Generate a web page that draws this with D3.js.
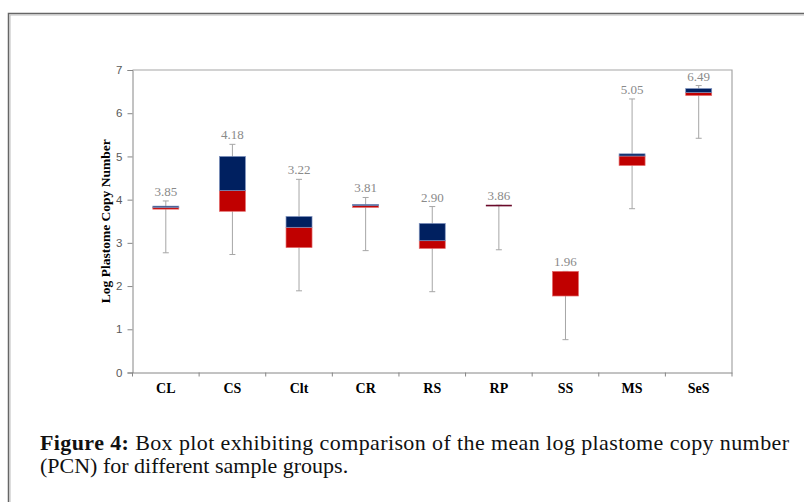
<!DOCTYPE html>
<html>
<head>
<meta charset="utf-8">
<script src="https://cdn.jsdelivr.net/npm/d3@7"></script>
<style>
  html, body { margin: 0; padding: 0; background: #fff; }
  svg { display: block; }
</style>
</head>
<body>
<svg id="chart" width="804" height="502"></svg>
<script>
// ---- data ----
const categories  = ["CL", "CS", "Clt", "CR", "RS", "RP", "SS", "MS", "SeS"];
const whiskerLow  = [2.77, 2.73, 1.89, 2.82, 1.87, 2.84, 0.76, 3.79, 5.42];
const q1          = [3.78, 3.73, 2.89, 3.82, 2.87, 3.85, 1.77, 4.79, 6.41];
const median      = [3.82, 4.21, 3.36, 3.86, 3.05, 3.86, 2.34, 5.01, 6.48];
const q3          = [3.85, 5.00, 3.61, 3.89, 3.45, 3.87, 2.34, 5.06, 6.57];
const whiskerHigh = [3.97, 5.28, 4.47, 4.05, 3.84, 3.87, 2.34, 6.33, 6.64];
const meanLabels  = ["3.85", "4.18", "3.22", "3.81", "2.90", "3.86", "1.96", "5.05", "6.49"];
const yTicks      = [0, 1, 2, 3, 4, 5, 6, 7];
const yTitle      = "Log Plastome Copy Number";
const captionBold = "Figure 4:";
const captionLine1 = " Box plot exhibiting comparison of the mean log plastome copy number";
const captionLine2 = "(PCN) for different sample groups.";

const svg = d3.select("#chart");

// outer frame
svg.append("path").attr("d", "M8.5,502 V13.5 H804")
  .attr("fill", "none").attr("stroke", "#666").attr("stroke-width", 1.5);
svg.append("path").attr("d", "M10,502 V15 H804")
  .attr("fill", "none").attr("stroke", "#bbb").attr("stroke-width", 1);

const L = 132.5, R = 732, T = 70, B = 372.5;

const x = d3.scaleBand().domain(categories).range([L, R]).paddingInner(0).paddingOuter(0);
const y = d3.scaleLinear().domain([0, 7]).range([B, T]);

// plot border (top, right)
svg.append("path").attr("d", `M${L},${T} H${R} V${B}`)
  .attr("fill", "none").attr("stroke", "#a6a6a6").attr("stroke-width", 1.2);

// y axis
const yAxis = svg.append("g").attr("transform", `translate(${L},0)`)
  .call(d3.axisLeft(y).tickValues(yTicks).tickSize(5).tickPadding(5).tickFormat(d3.format("d")));
yAxis.select(".domain").attr("stroke", "#868686");
yAxis.selectAll(".tick line").attr("stroke", "#868686");
yAxis.selectAll(".tick text").attr("fill", "#595959")
  .style("font-family", "'Liberation Sans', Arial, sans-serif").style("font-size", "11.5px");

// x axis
const xAxis = svg.append("g").attr("transform", `translate(0,${B})`)
  .call(d3.axisBottom(x).tickSize(0).tickPadding(11));
xAxis.select(".domain").attr("stroke", "#868686");
xAxis.selectAll(".tick text").attr("fill", "#000")
  .style("font-family", "'Liberation Serif', 'Times New Roman', serif")
  .style("font-size", "14px").style("font-weight", "bold");
// boundary tick marks
const bounds = categories.map(c => x(c)).concat([R]);
svg.append("g").selectAll("line").data(bounds).join("line")
  .attr("x1", d => d).attr("x2", d => d).attr("y1", B).attr("y2", B + 4)
  .attr("stroke", "#868686").attr("stroke-width", 1);

// y title
svg.append("text")
  .attr("transform", `translate(110,${(T + B) / 2}) rotate(-90)`)
  .attr("text-anchor", "middle")
  .style("font-family", "'Liberation Serif', 'Times New Roman', serif")
  .style("font-size", "13.5px").style("font-weight", "bold")
  .text(yTitle);

// boxes
const bw = 26, cap = 6;
const g = svg.append("g");
categories.forEach((c, i) => {
  const cx = x(c) + x.bandwidth() / 2;
  // whisker
  g.append("line").attr("x1", cx).attr("x2", cx)
    .attr("y1", y(whiskerLow[i])).attr("y2", y(whiskerHigh[i]))
    .attr("stroke", "#a6a6a6").attr("stroke-width", 1);
  [whiskerLow[i], whiskerHigh[i]].forEach(v => {
    g.append("line").attr("x1", cx - cap / 2).attr("x2", cx + cap / 2)
      .attr("y1", y(v)).attr("y2", y(v))
      .attr("stroke", "#a6a6a6").attr("stroke-width", 1);
  });
  const hLow = y(q1[i]) - y(median[i]);
  const hUp = y(median[i]) - y(q3[i]);
  const thin = (hLow + hUp) < 3;
  if (thin) {
    // nearly collapsed box drawn as a dark maroon bar
    g.append("rect").attr("x", cx - bw / 2).attr("width", bw)
      .attr("y", y(q3[i]) - 0.5).attr("height", Math.max(1.6, hLow + hUp + 0.5))
      .attr("fill", "#6a0a2a");
  } else {
    // lower box (red)
    g.append("rect").attr("x", cx - bw / 2).attr("width", bw)
      .attr("y", y(median[i])).attr("height", Math.max(0, hLow))
      .attr("fill", "#C00000").attr("stroke", "#e46c6c").attr("stroke-width", 0.7);
    // upper box (navy)
    if (hUp > 0) {
      g.append("rect").attr("x", cx - bw / 2).attr("width", bw)
        .attr("y", y(q3[i])).attr("height", hUp)
        .attr("fill", "#002060").attr("stroke", "#7f93bf").attr("stroke-width", 0.7);
    }
  }
  // mean label
  g.append("text").attr("x", cx).attr("y", y(whiskerHigh[i]) - 5)
    .attr("text-anchor", "middle").attr("fill", "#8a8a8a")
    .style("font-family", "'Liberation Serif', 'Times New Roman', serif")
    .style("font-size", "13px")
    .text(meanLabels[i]);
});

// caption
const capFont = "'Liberation Serif', 'Times New Roman', serif";
const t1 = svg.append("text").attr("x", 40).attr("y", 450)
  .style("font-family", capFont).style("font-size", "20px").attr("fill", "#111");
t1.append("tspan").style("font-weight", "bold").text(captionBold);
t1.append("tspan").text(captionLine1);
const target = 749;
const w1 = t1.node().getComputedTextLength();
let fs = Math.min(22, 20 * target / w1);
t1.style("font-size", fs + "px");
const w2 = t1.node().getComputedTextLength();
if (Math.abs(w2 - target) > 2) {
  t1.attr("textLength", target).attr("lengthAdjust", "spacing");
}
svg.append("text").attr("x", 40).attr("y", 473)
  .style("font-family", capFont).style("font-size", fs + "px").attr("fill", "#111")
  .text(captionLine2);
</script>
</body>
</html>
